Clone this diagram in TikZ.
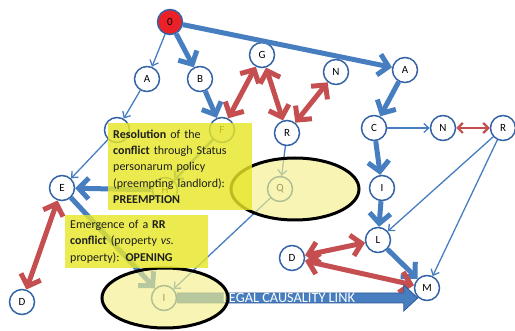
\documentclass[tikz,border=0pt]{standalone}
\usepackage{fontspec}
\setmainfont{Carlito}
\usetikzlibrary{arrows.meta}
\definecolor{linkblue}{RGB}{70,126,192}
\definecolor{nodeblue}{RGB}{52,100,165}
\definecolor{edgeblue}{RGB}{45,88,150}
\definecolor{linkred}{RGB}{196,78,80}
\definecolor{hot}{RGB}{234,34,40}
\definecolor{noteyellow}{RGB}{230,230,40}
\definecolor{zoneyellow}{RGB}{245,240,140}
\definecolor{ink}{RGB}{30,30,30}
\begin{document}
\begin{tikzpicture}[x=1pt,y=-1pt,
  st/.style={circle,draw=nodeblue,line width=1.5pt,fill=white,minimum size=25pt,
    inner sep=0pt,font=\fontsize{11}{12}\selectfont},
  thinlink/.style={draw=linkblue,line width=1.3pt,-{Straight Barb[length=5pt,width=9pt]}},
  midlink/.style={draw=linkblue,line width=2.5pt,-{Straight Barb[length=6pt,width=12pt]}},
  thicklink/.style={draw=linkblue,line width=5pt,-{Straight Barb[length=10pt,width=21pt]}},
  redlink/.style={draw=linkred,line width=5pt,
    {Straight Barb[length=10pt,width=21pt]}-{Straight Barb[length=10pt,width=21pt]}},
  redthin/.style={draw=linkred,line width=2.2pt,
    {Straight Barb[length=5pt,width=10pt]}-{Straight Barb[length=5pt,width=10pt]}},
  zone/.style={draw=black,line width=3pt,fill=zoneyellow,fill opacity=0.65},
  note/.style={fill=noteyellow,fill opacity=0.82,text opacity=1,text=ink,anchor=north west,
    inner xsep=5pt,inner ysep=0pt,align=left,
    font=\fontsize{12}{16.3}\selectfont},
]
\useasboundingbox (0,0) rectangle (515,331);

% states of the left branch
\node[st,fill=hot] (o) at (170,22) {0};
\node[st] (a1) at (147,79) {A};
\node[st] (b) at (200,79) {B};
\node[st] (x) at (117,130) {};
\node[st] (f) at (222,130) {F};
\node[st] (h) at (165,190) {H};
\node[st] (e) at (62,188) {E};
\node[st] (d1) at (22,302) {D};
\node[st] (i1) at (164,298) {I};
% states of the middle branch
\node[st] (g) at (262,55) {G};
\node[st] (r1) at (287,133) {R};
\node[st] (n1) at (336,72) {N};
\node[st] (q) at (280,189) {Q};
% states of the right branch
\node[st] (a2) at (405,70) {A};
\node[st] (c) at (374,128) {C};
\node[st] (n2) at (443,128) {N};
\node[st] (r2) at (503,128) {R};
\node[st] (i2) at (382,188) {I};
\node[st] (l) at (378,240) {L};
\node[st] (d2) at (292,258) {D};
\node[st] (m) at (427,288) {M};

% causal links
\draw[thinlink] (o) -- (a1);
\draw[thicklink] (o) -- (b);
\draw[thicklink] (o) -- (a2);
\draw[thinlink] (a1) -- (x);
\draw[thinlink] (x) -- (e);
\draw[thicklink] (b) -- (f);
\draw[midlink] (f) -- (h);
\draw[thicklink] (h) -- (e);
\draw[thicklink] (e) -- (i1);
\draw[thinlink] (r1) -- (q);
\draw[thinlink] (q) -- (i1);
\draw[thicklink] (a2) -- (c);
\draw[thinlink] (c) -- (n2);
\draw[thicklink] (c) -- (i2);
\draw[thicklink] (i2) -- (l);
\draw[thinlink] (r2) -- (l);
\draw[thinlink] (r2) -- (m);
\draw[thicklink] (l) -- (m);

% conflicts
\draw[redlink] (f) -- (g);
\draw[redlink] (g) -- (r1);
\draw[redlink] (n1) -- (r1);
\draw[redlink] (e) -- (d1);
\draw[redlink] (d2) -- (l);
\draw[redlink] (d2) -- (m);
\draw[redthin] (n2) -- (r2);

% legal causality link: block arrow from I to M
\coordinate (tip) at ([xshift=4pt]i1.east -| m.west);
\draw[fill=linkblue,draw=edgeblue,line width=0.8pt]
  ([yshift=5pt]i1.east) -- ([xshift=-14pt,yshift=5pt]tip) -- ([xshift=-14pt,yshift=13pt]tip)
  -- (tip) -- ([xshift=-14pt,yshift=-13pt]tip) -- ([xshift=-14pt,yshift=-5pt]tip)
  -- ([yshift=-5pt]i1.east) -- cycle;
\node[text=white,font=\fontsize{14.3}{14.3}\selectfont] (legal) at (289,297.5) {LEGAL CAUSALITY LINK};

% highlighted zones
\path[zone] (295,189) ellipse [x radius=64,y radius=31];
\path[zone] (165,298) ellipse [x radius=63,y radius=30];

% comments
\node[note,minimum width=144pt,minimum height=87pt,text width=134pt] (res) at (108,123)
  {\textbf{Resolution} of the\\ \textbf{conflict} through Status\\ personarum policy\\
   (preempting landlord):\\ \textbf{PREEMPTION}};
\node[note,minimum width=143pt,minimum height=53pt,text width=133pt] (emg) at (65,215)
  {Emergence of a \textbf{RR}\\ \textbf{conflict} (property \textit{vs.}\\ property): \textbf{OPENING}};
\end{tikzpicture}
\end{document}
